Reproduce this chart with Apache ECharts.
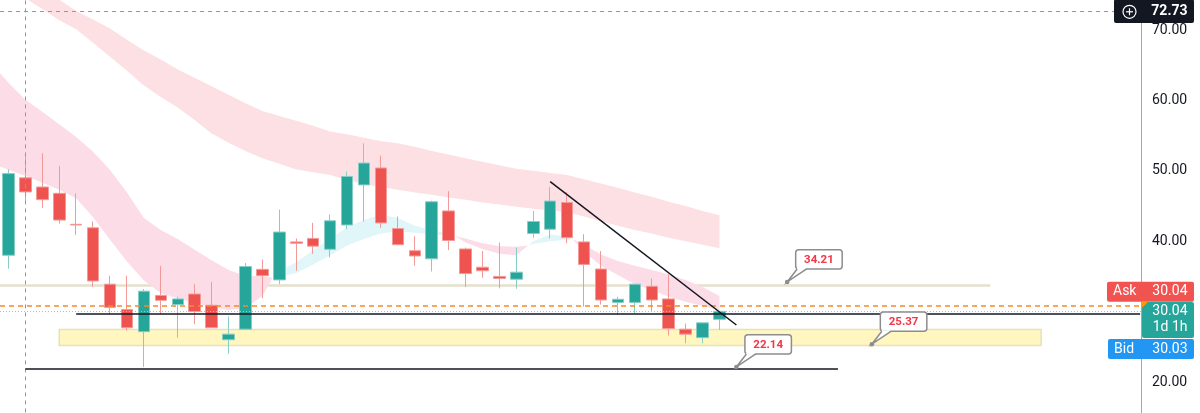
<!DOCTYPE html>
<html>
<head>
<meta charset="utf-8">
<title>Daily candles</title>
<script src="https://cdn.jsdelivr.net/npm/echarts@6/dist/echarts.min.js"></script>
<style>
  html, body { margin: 0; padding: 0; background: #fff; }
  #chart { width: 1200px; height: 413px; }
</style>
</head>
<body>
<div id="chart"></div>
<script>
// candles, oldest first (x = bar index)
const opens  = [38.0, 49.0, 47.7, 46.8, 42.4, 41.9, 33.9, 30.3, 27.15, 32.3, 31.0, 32.5, 30.9, 26.0, 27.5, 36.0, 34.5, 39.9, 40.4, 38.85, 42.3, 48.0, 50.4, 41.8, 38.65, 37.5, 44.3, 38.9, 36.3, 35.0, 34.6, 41.1, 41.7, 45.5, 39.9, 36.05, 31.3, 31.3, 33.6, 31.8, 27.5, 26.3, 28.9]
const closes = [49.6, 47.0, 45.9, 43.0, 42.3, 34.35, 30.6, 27.7, 32.9, 31.6, 31.8, 30.0, 27.7, 26.8, 36.4, 35.1, 41.3, 39.7, 39.3, 42.9, 49.2, 51.1, 42.6, 39.5, 37.9, 45.6, 40.1, 35.4, 35.8, 34.7, 35.6, 42.8, 45.7, 40.5, 36.7, 31.65, 31.75, 33.9, 31.65, 27.6, 26.8, 28.4, 30.04]
const lows   = [36.1, 45.5, 44.7, 42.5, 40.9, 33.5, 29.6, 27.3, 22.14, 29.6, 26.3, 28.2, 27.7, 24.0, 27.4, 31.9, 33.9, 35.8, 38.2, 37.7, 41.7, 42.8, 41.9, 39.5, 36.5, 35.7, 38.75, 33.5, 34.8, 33.3, 33.25, 40.5, 40.4, 39.7, 30.7, 31.0, 29.5, 29.8, 30.1, 26.6, 25.5, 25.5, 27.4]
const highs  = [50.2, 52.5, 52.5, 50.7, 46.8, 42.8, 35.1, 35.1, 33.2, 36.5, 32.1, 33.9, 34.25, 29.3, 36.9, 37.4, 44.5, 40.4, 42.6, 43.8, 49.9, 53.9, 52.15, 43.5, 40.7, 45.75, 47.1, 39.1, 38.6, 39.8, 39.1, 44.3, 47.7, 46.95, 41.0, 38.6, 32.1, 33.9, 34.7, 35.3, 28.3, 28.4, 30.1]

// slow ribbon (upper pink band), per bar
const slowTop    = [78.5, 77.1, 75.7, 74.3, 72.7, 71.5, 70.2, 68.6, 67.1, 65.8, 64.4, 63.2, 62.0, 60.8, 59.6, 58.5, 57.8, 57.1, 56.4, 55.6, 55.2, 54.7, 54.2, 53.9, 53.4, 52.8, 52.3, 51.8, 51.3, 50.8, 50.3, 50.0, 49.7, 49.4, 48.8, 48.2, 47.6, 46.9, 46.3, 45.6, 45.0, 44.3, 43.7]
const slowBottom = [76.0, 74.5, 73.0, 71.4, 70.1, 68.2, 66.2, 64.2, 62.1, 60.5, 59.0, 57.2, 55.3, 54.0, 52.8, 51.8, 51.0, 50.2, 49.8, 49.4, 48.7, 48.1, 47.7, 47.3, 46.9, 46.6, 46.2, 45.9, 45.5, 45.2, 44.9, 44.6, 44.4, 44.1, 43.5, 42.8, 42.2, 41.6, 41.1, 40.5, 40.0, 39.5, 39.0]

// fast ribbon pieces [x, top, bottom]
const fastPinkA = [[-1, 65.2, 51.1], [0, 62.5, 50.1], [1, 60.1, 49.3], [2, 58.4, 48.3], [3, 56.6, 47.3], [4, 54.8, 46.1], [5, 52.7, 43.4], [6, 50.1, 40.2], [7, 46.9, 37.1], [8, 43.3, 34.4], [9, 41.6, 32.6], [10, 40.3, 31.9], [11, 38.8, 31.2], [12, 37.3, 30.7], [13, 35.9, 30.2], [14, 35.1, 30.5], [15, 35.0, 32.2], [15.6, 34.8, 34.8]]
const fastCyanA = [[15.6, 34.8, 34.8], [16, 35.8, 34.9], [17, 37.0, 35.5], [18, 38.7, 36.7], [19, 40.4, 38.0], [20, 42.0, 39.4], [21, 43.0, 40.3], [22, 43.8, 41.1], [23, 43.3, 41.4], [24, 42.2, 41.2], [25, 41.6, 41.0], [26, 41.1, 40.8], [26.4, 40.7, 40.7]]
const fastPinkB = [[26.4, 40.7, 40.7], [27, 40.4, 39.8], [28, 39.7, 38.9], [29, 39.3, 38.2], [30, 39.2, 38.0], [30.7, 39.4, 39.4]]
const fastCyanB = [[30.7, 39.4, 39.4], [31, 40.0, 39.6], [32, 41.0, 40.0], [33, 40.6, 40.2], [33.3, 40.3, 40.3]]
const fastPinkC = [[33.3, 40.3, 40.3], [34, 39.5, 38.5], [35, 38.1, 36.5], [36, 37.2, 35.2], [37, 36.5, 33.9], [38, 35.9, 33.1], [39, 35.3, 32.1], [40, 34.5, 31.4], [41, 33.5, 30.8], [42, 32.2, 30.2]]

// drawings
const trendLine  = [[32, 48.45], [43, 28.1]]
const supportMid = [[4, 29.7], [66.85, 29.7]]
const supportLow = [[1, 21.88], [49, 21.88]]
const levelLine  = [[-0.5, 33.7], [58, 33.7]]
const zoneBox    = [[3, 27.45], [61, 25.2]]
const calloutX   = [46, 51, 43]
const calloutVal = [34.21, 25.37, 22.14]

const lastPrice = 30.04
const bidPrice = 30.03
const askLine = 30.9
const crossX = 1
const crossY = 72.73
const yTicks = [10, 80, 10] // min, max, step

const candles = opens.map((o, i) => [i, o, closes[i], lows[i], highs[i]])
const slowBand = slowTop.map((v, i) => [i, v, slowBottom[i]])

const FONT = 'Roboto'
const chart = echarts.init(document.getElementById('chart'))

function ribbon(pts, color, extra) {
  return Object.assign({
    type: 'custom',
    z: 1,
    silent: true,
    clip: true,
    data: pts,
    encode: { x: 0, y: [1, 2] },
    renderItem: (params, api) => {
      if (params.dataIndex !== 0) return null
      const up = pts.map(p => api.coord([p[0], p[1]]))
      const dn = pts.slice().reverse().map(p => api.coord([p[0], p[2]]))
      return { type: 'polygon', shape: { points: up.concat(dn) }, style: { fill: color } }
    }
  }, extra || {})
}

const lineSeg = (pair, style) => [{ coord: pair[0], lineStyle: style }, { coord: pair[1] }]

chart.setOption({
  animation: false,
  backgroundColor: '#ffffff',
  grid: { left: 0, right: 59, top: -40.4, bottom: -39.4, outerBoundsMode: 'none', containLabel: false },
  xAxis: { type: 'value', min: -0.5, max: 66.9, show: false },
  yAxis: {
    type: 'value', position: 'right',
    min: yTicks[0], max: yTicks[1], interval: yTicks[2],
    axisLine: { show: true, onZero: false, lineStyle: { color: '#a3a6af', width: 1 } },
    axisTick: { show: false },
    splitLine: { show: false },
    axisLabel: { margin: 11, color: '#131722', fontFamily: FONT, fontSize: 14, formatter: v => v.toFixed(2) }
  },
  series: [
    ribbon(slowBand, '#fde0e3', {
      markArea: {
        silent: true,
        itemStyle: { color: '#fff6c0', borderColor: '#e6e1b8', borderWidth: 1.5 },
        data: [[{ coord: zoneBox[0] }, { coord: zoneBox[1] }]]
      },
      markLine: {
        z: 1, silent: true, symbol: ['none', 'none'], label: { show: false },
        data: [lineSeg(levelLine, { color: '#e4e0cc', width: 2.5, type: 'solid' })]
      }
    }),
    ribbon(fastPinkA, '#fcdde7'),
    ribbon(fastCyanA, '#e1f6f9'),
    ribbon(fastPinkB, '#fcdde7'),
    ribbon(fastCyanB, '#e1f6f9'),
    ribbon(fastPinkC, '#fcdde7'),
    {
      type: 'candlestick',
      z: 3,
      barWidth: 12,
      data: candles,
      itemStyle: {
        color: '#26a69a', color0: '#ef5350',
        borderColor: '#86cdc5', borderColor0: '#f39a98', borderWidth: 1
      },
      markLine: {
        silent: true, symbol: ['none', 'none'], label: { show: false },
        data: [
          { xAxis: crossX, lineStyle: { color: '#9598a1', width: 1, type: [4, 4] } },
          { yAxis: crossY, lineStyle: { color: '#9598a1', width: 1, type: [4, 4] } },
          { yAxis: askLine, lineStyle: { color: '#f28c28', width: 1.5, type: [5, 4], opacity: 1 } },
          { yAxis: lastPrice, lineStyle: { color: '#f2a0a0', width: 1, type: [1, 2] } },
          lineSeg(supportMid, { color: '#131722', width: 1.5, type: 'solid' }),
          lineSeg(supportLow, { color: '#131722', width: 1.5, type: 'solid' }),
          lineSeg(trendLine, { color: '#131722', width: 1.5, type: 'solid' })
        ]
      }
    },
    {
      type: 'custom',
      z: 6,
      silent: true,
      data: calloutX.map((x, i) => [x, calloutVal[i]]),
      encode: { x: 0, y: 1 },
      renderItem: (params, api) => {
        const p = api.coord([api.value(0), api.value(1)])
        const bx = p[0] + 8.5, by = p[1] - 32.3, bw = 46.5, bh = 19.3
        return {
          type: 'group',
          children: [
            { type: 'rect', shape: { x: bx, y: by, width: bw, height: bh, r: 3 }, style: { fill: '#fff', stroke: '#8d8d8d', lineWidth: 1.5 } },
            { type: 'polygon', shape: { points: [p, [bx + 1.5, by + bh - 1], [bx + 11, by + bh - 1]] }, style: { fill: '#fff' } },
            { type: 'polyline', shape: { points: [[bx + 1.5, by + bh], p, [bx + 11, by + bh]] }, style: { fill: null, stroke: '#8d8d8d', lineWidth: 1.5 } },
            { type: 'circle', shape: { cx: p[0], cy: p[1], r: 2.3 }, style: { fill: '#8d8d8d' } },
            { type: 'text', style: { x: bx + bw / 2, y: by + bh / 2 + 0.5, text: calloutVal[params.dataIndex].toFixed(2), align: 'center', verticalAlign: 'middle', fill: '#f23645', font: 'bold 11.5px ' + FONT } }
          ]
        }
      }
    }
  ]
})

// price badges on the right scale
const py = chart.convertToPixel({ yAxisIndex: 0 }, lastPrice)
const hy = chart.convertToPixel({ yAxisIndex: 0 }, crossY)
const txt = (text, x, y, align, extra) => ({
  type: 'text', z: 101,
  style: Object.assign({ text, x, y, align, verticalAlign: 'middle', fill: '#ffffff', font: '14px ' + FONT }, extra || {})
})

chart.setOption({
  graphic: [
    { type: 'rect', z: 100, shape: { x: 1114, y: hy - 11.3, width: 80, height: 23.5, r: 2 }, style: { fill: '#131722' } },
    { type: 'circle', z: 101, shape: { cx: 1129.5, cy: hy + 1, r: 6.5 }, style: { fill: null, stroke: '#ffffff', lineWidth: 1.2 } },
    { type: 'line', z: 101, shape: { x1: 1126, y1: hy + 1, x2: 1133, y2: hy + 1 }, style: { stroke: '#ffffff', lineWidth: 1.2 } },
    { type: 'line', z: 101, shape: { x1: 1129.5, y1: hy - 2.5, x2: 1129.5, y2: hy + 4.5 }, style: { stroke: '#ffffff', lineWidth: 1.2 } },
    txt(crossY.toFixed(2), 1187.5, hy + 1, 'right', { font: 'bold 14px ' + FONT }),

    { type: 'rect', z: 100, shape: { x: 1107, y: py - 29.6, width: 87, height: 20, r: 2 }, style: { fill: '#f05350' } },
    txt('Ask', 1113, py - 19.4, 'left'),
    txt(lastPrice.toFixed(2), 1187.5, py - 19.4, 'right'),

    { type: 'rect', z: 100, shape: { x: 1142, y: py - 9.3, width: 52, height: 36, r: 2 }, style: { fill: '#26a69a' } },
    { type: 'polygon', z: 101, shape: { points: [[1142, py - 9.3], [1148, py - 9.3], [1142, py - 3.5]] }, style: { fill: '#ff9800' } },
    txt(lastPrice.toFixed(2), 1187.5, py + 0.6, 'right'),
    txt('1d 1h', 1187.5, py + 16.5, 'right'),

    { type: 'rect', z: 100, shape: { x: 1108, y: py + 27.7, width: 86, height: 20, r: 2 }, style: { fill: '#2196f3' } },
    txt('Bid', 1114, py + 37.9, 'left'),
    txt(bidPrice.toFixed(2), 1187.5, py + 37.9, 'right')
  ]
})
</script>
</body>
</html>
